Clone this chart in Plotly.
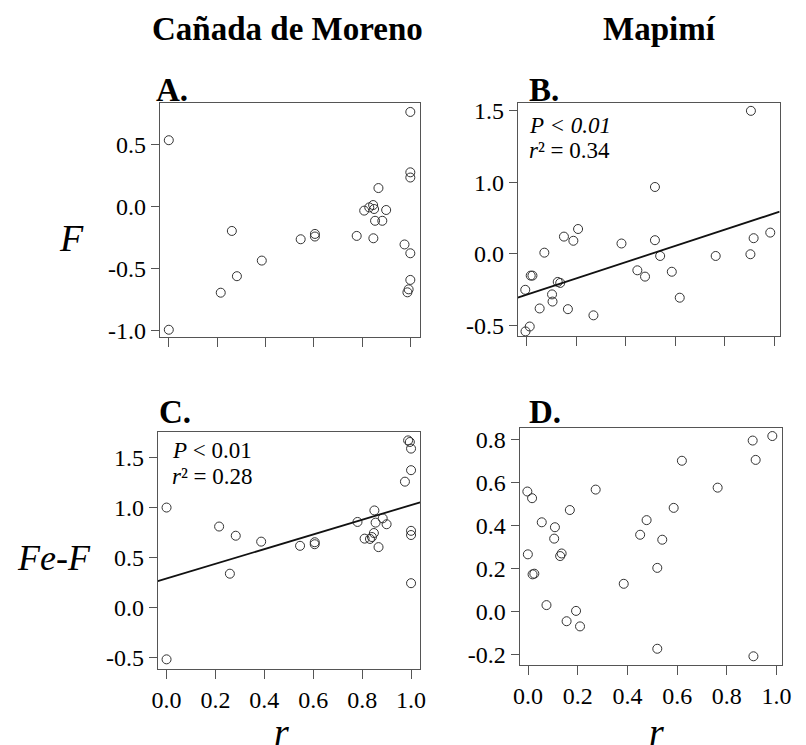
import plotly.graph_objects as go

W, H = 806, 745

# ---------------- data ----------------
# Panel A: Cañada de Moreno, F vs r
a_r = [0.0, 0.0, 0.215, 0.261, 0.282, 0.385, 0.546, 0.605, 0.605, 0.778, 0.809, 0.830,
       0.846, 0.850, 0.868, 0.854, 0.884, 0.847, 0.900, 0.976, 1.0, 1.0, 1.0, 1.0, 1.0,
       0.993, 0.988]
a_f = [0.534, -0.995, -0.696, -0.198, -0.563, -0.437, -0.265, -0.222, -0.243, -0.238,
       -0.034, -0.008, 0.011, -0.021, 0.148, -0.116, -0.116, -0.257, -0.029, -0.307,
       0.762, 0.275, 0.233, -0.378, -0.593, -0.669, -0.693]

# Panel B: Mapimí, F vs r
b_r = [-0.005, -0.004, 0.013, 0.017, 0.024, 0.053, 0.072, 0.103, 0.105, 0.126, 0.136,
       0.151, 0.167, 0.189, 0.208, 0.270, 0.383, 0.447, 0.478, 0.518, 0.518, 0.539,
       0.586, 0.618, 0.763, 0.903, 0.905, 0.916, 0.983]
b_f = [-0.250, -0.540, -0.506, -0.151, -0.151, -0.380, 0.009, -0.282, -0.332, -0.195,
       -0.202, 0.121, -0.385, 0.092, 0.174, -0.428, 0.073, -0.114, -0.158, 0.467,
       0.096, -0.014, -0.124, -0.305, -0.014, -0.002, 0.998, 0.110, 0.149]
b_fit = (-0.284, 0.567)  # intercept, slope

# Panel C: Cañada de Moreno, Fe-F vs r
c_r = [0.0, 0.0, 0.215, 0.259, 0.283, 0.387, 0.546, 0.606, 0.606, 0.781, 0.810, 0.832,
       0.840, 0.848, 0.850, 0.855, 0.867, 0.884, 0.900, 0.975, 0.988, 0.995, 1.0, 1.0,
       1.0, 1.0, 1.0]
c_fef = [1.003, -0.516, 0.813, 0.341, 0.721, 0.662, 0.620, 0.656, 0.636, 0.859, 0.692,
         0.689, 0.708, 0.748, 0.974, 0.852, 0.607, 0.895, 0.836, 1.262, 1.675, 1.659,
         1.593, 1.377, 0.770, 0.728, 0.246]
c_fit = (0.293, 0.735)

# Panel D: Mapimí, Fe-F vs r
d_r = [-0.003, 0.016, -0.001, 0.018, 0.025, 0.055, 0.074, 0.108, 0.105, 0.129, 0.135,
       0.168, 0.155, 0.193, 0.209, 0.272, 0.385, 0.451, 0.477, 0.520, 0.540, 0.586,
       0.619, 0.763, 0.904, 0.916, 0.983, 0.520, 0.907]
d_fef = [0.557, 0.526, 0.265, 0.172, 0.175, 0.414, 0.029, 0.391, 0.338, 0.257, 0.269,
         0.471, -0.046, 0.002, -0.070, 0.566, 0.128, 0.356, 0.424, 0.202, 0.333, 0.481,
         0.700, 0.575, 0.794, 0.704, 0.815, -0.174, -0.209]

# tick values / labels
x_ticks = [0.0, 0.2, 0.4, 0.6, 0.8, 1.0]
x_ticktext = ["0.0", "0.2", "0.4", "0.6", "0.8", "1.0"]
a_yticks = [-1.0, -0.5, 0.0, 0.5]
a_yticktext = ["-1.0", "-0.5", "0.0", "0.5"]
b_yticks = [-0.5, 0.0, 0.5, 1.0]
b_yticktext = ["-0.5", "0.0", "1.0", "1.5"]
c_yticks = [-0.5, 0.0, 0.5, 1.0, 1.5]
c_yticktext = ["-0.5", "0.0", "0.5", "1.0", "1.5"]
d_yticks = [-0.2, 0.0, 0.2, 0.4, 0.6, 0.8]
d_yticktext = ["-0.2", "0.0", "0.2", "0.4", "0.6", "0.8"]

col_titles = ["Cañada de Moreno", "Mapimí"]
panel_letters = ["A.", "B.", "C.", "D."]

# ---------------- layout helpers ----------------
SERIF = "Liberation Serif, Times New Roman, serif"


def px_x(p):
    return p / W


def px_y(p):
    return (H - p) / H


# panel boxes in pixels: (left, right, top, bottom)
boxes = {
    "A": (156, 422, 100, 337),
    "B": (521.7, 789.3, 100, 336.7),
    "C": (154, 422, 434, 675),
    "D": (523.7, 791.7, 430, 670.7),
}
xranges = {"A": [-0.0377, 1.0405], "B": [-0.0355, 1.0209],
           "C": [-0.036, 1.037], "D": [-0.034, 1.022]}
yranges = {"A": [-1.05, 0.831], "B": [-0.574, 1.050],
           "C": [-0.614, 1.759], "D": [-0.249, 0.852]}
yticks = {"A": (a_yticks, a_yticktext), "B": (b_yticks, b_yticktext),
          "C": (c_yticks, c_yticktext), "D": (d_yticks, d_yticktext)}
data = {"A": (a_r, a_f), "B": (b_r, b_f), "C": (c_r, c_fef), "D": (d_r, d_fef)}
fits = {"B": b_fit, "C": c_fit}
show_xlabels = {"A": False, "B": False, "C": True, "D": True}

fig = go.Figure()
layout = dict(
    width=W, height=H,
    margin=dict(l=0, r=0, t=0, b=0),
    paper_bgcolor="white", plot_bgcolor="white",
    showlegend=False,
    font=dict(family=SERIF, size=24, color="black"),
)

for i, key in enumerate(["A", "B", "C", "D"]):
    n = "" if i == 0 else str(i + 1)
    l, r, t, b = boxes[key]
    xs, ys = data[key]
    fig.add_trace(go.Scatter(
        x=xs, y=ys, mode="markers", xaxis="x" + n, yaxis="y" + n,
        marker=dict(symbol="circle-open", size=9, color="#333333",
                    line=dict(width=1, color="#333333")),
        hoverinfo="skip"))
    if key in fits:
        b0, b1 = fits[key]
        lx = xranges[key]
        fig.add_trace(go.Scatter(
            x=lx, y=[b0 + b1 * v for v in lx], mode="lines",
            xaxis="x" + n, yaxis="y" + n,
            line=dict(color="#111111", width=1.8), hoverinfo="skip"))
    tv, tt = yticks[key]
    layout["xaxis" + n] = dict(
        domain=[px_x(l), px_x(r)], range=xranges[key], anchor="y" + n,
        tickvals=x_ticks, ticktext=x_ticktext, showticklabels=show_xlabels[key],
        ticks="outside", ticklen=9, tickwidth=1, tickcolor="#555555",
        showline=True, linecolor="#555555", linewidth=1, mirror=True,
        showgrid=False, zeroline=False,
        tickfont=dict(family=SERIF, size=24, color="black"))
    layout["yaxis" + n] = dict(
        domain=[px_y(b), px_y(t)], range=yranges[key], anchor="x" + n,
        tickvals=tv, ticktext=tt,
        ticks="outside", ticklen=8, tickwidth=1, tickcolor="#555555",
        showline=True, linecolor="#555555", linewidth=1, mirror=True,
        showgrid=False, zeroline=False,
        tickfont=dict(family=SERIF, size=24, color="black"))

ann = []


def add_text(text, x, y, size, xanchor="center", yanchor="middle", bold=False):
    ann.append(dict(text=("<b>%s</b>" % text) if bold else text,
                    x=px_x(x), y=px_y(y), xref="paper", yref="paper",
                    xanchor=xanchor, yanchor=yanchor, showarrow=False,
                    font=dict(family=SERIF, size=size, color="black")))


# column titles
add_text(col_titles[0], 287, 24, 33, bold=True)
add_text(col_titles[1], 667, 24, 33, bold=True)
# panel letters
add_text(panel_letters[0], 150, 86, 33, xanchor="left", bold=True)
add_text(panel_letters[1], 531, 86, 33, xanchor="left", bold=True)
add_text(panel_letters[2], 153, 414, 33, xanchor="left", bold=True)
add_text(panel_letters[3], 531, 414, 33, xanchor="left", bold=True)
# axis titles
add_text("<i>F</i>", 66, 237, 38)
add_text("<i>Fe</i>-<i>F</i>", 48, 562, 36)
add_text("<i>r</i>", 280, 739, 38)
add_text("<i>r</i>", 663, 739, 38)
# statistics
add_text("<i>P &lt; 0.01</i>", 531, 122, 23, xanchor="left")
add_text("<i>r</i>² = 0.34", 531, 148, 23, xanchor="left")
add_text("<i>P</i> &lt; 0.01", 167, 453, 23, xanchor="left")
add_text("<i>r</i>² = 0.28", 167, 479, 23, xanchor="left")

layout["annotations"] = ann
fig.update_layout(**layout)
fig.write_html("out.html")
